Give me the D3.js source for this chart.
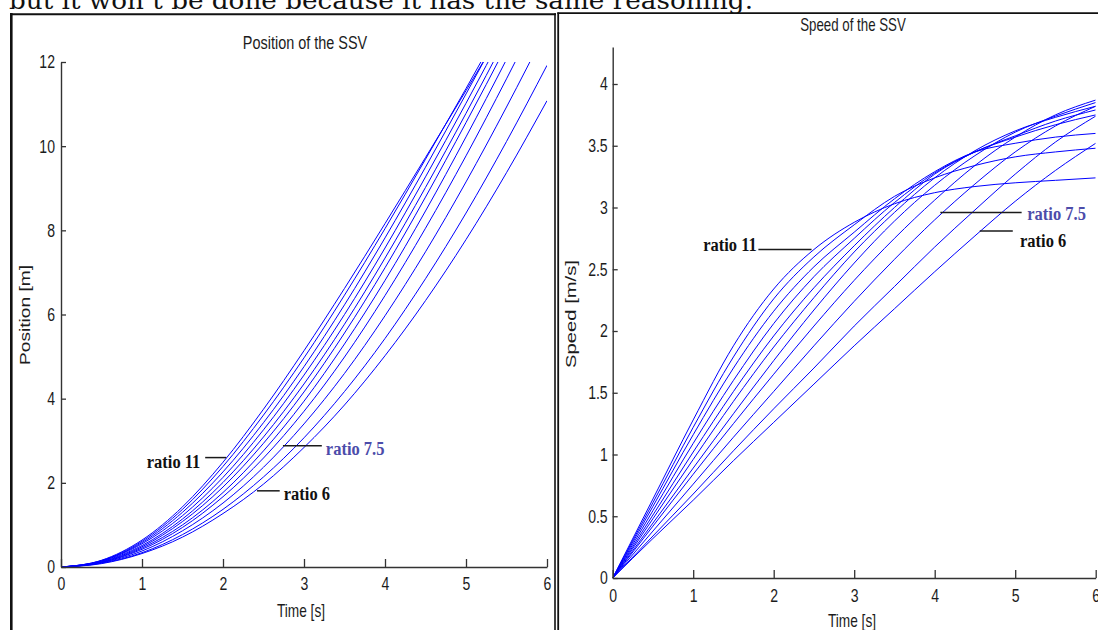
<!DOCTYPE html>
<html>
<head>
<meta charset="utf-8">
<script src="https://cdn.jsdelivr.net/npm/d3@7"></script>
<style>
  html, body { margin: 0; padding: 0; background: #ffffff; }
  svg { display: block; }
</style>
</head>
<body>
<svg id="fig" width="1098" height="630"></svg>
<script>
// Sample times [s]
const timeS = [0, 0.5, 1, 1.5, 2, 2.5, 3, 3.5, 4, 4.5, 5, 5.5, 6];
const ratioLabels = ["6", "6.5", "7", "7.5", "8", "8.5", "9", "9.5", "10", "10.5", "11"];

// Position of the SSV [m], one array per transmission ratio
const posR6   = [0, 0.08, 0.32, 0.71, 1.27, 1.97, 2.84, 3.85, 5.02, 6.33, 7.78, 9.37, 11.08];
const posR6_5 = [0, 0.09, 0.34, 0.77, 1.37, 2.14, 3.07, 4.17, 5.43, 6.85, 8.41, 10.11, 11.92];
const posR7   = [0, 0.10, 0.38, 0.86, 1.52, 2.37, 3.40, 4.60, 5.97, 7.49, 9.15, 10.93, 12.80];
const posR7_5 = [0, 0.11, 0.42, 0.94, 1.67, 2.59, 3.70, 4.99, 6.45, 8.05, 9.77, 11.60, 13.51];
const posR8   = [0, 0.11, 0.45, 1.00, 1.77, 2.76, 3.94, 5.30, 6.81, 8.46, 10.22, 12.06, 13.96];
const posR8_5 = [0, 0.12, 0.48, 1.08, 1.90, 2.94, 4.16, 5.56, 7.11, 8.79, 10.56, 12.39, 14.28];
const posR9   = [0, 0.13, 0.51, 1.14, 2.01, 3.09, 4.35, 5.77, 7.34, 9.02, 10.78, 12.60, 14.47];
const posR9_5 = [0, 0.14, 0.55, 1.22, 2.13, 3.26, 4.56, 6.00, 7.58, 9.27, 11.02, 12.83, 14.69];
const posR10  = [0, 0.15, 0.58, 1.30, 2.26, 3.43, 4.76, 6.23, 7.82, 9.50, 11.24, 13.01, 14.81];
const posR10_5= [0, 0.15, 0.61, 1.37, 2.39, 3.61, 4.97, 6.46, 8.04, 9.69, 11.37, 13.09, 14.82];
const posR11  = [0, 0.16, 0.64, 1.43, 2.49, 3.75, 5.14, 6.62, 8.16, 9.73, 11.32, 12.93, 14.54];

// Speed of the SSV [m/s], one array per transmission ratio
const spdR6   = [0, 0.32, 0.63, 0.95, 1.26, 1.57, 1.88, 2.18, 2.48, 2.77, 3.05, 3.30, 3.52];
const spdR6_5 = [0, 0.34, 0.68, 1.03, 1.37, 1.70, 2.04, 2.36, 2.68, 2.98, 3.27, 3.53, 3.74];
const spdR7   = [0, 0.38, 0.76, 1.14, 1.51, 1.88, 2.24, 2.58, 2.90, 3.19, 3.45, 3.66, 3.82];
const spdR7_5 = [0, 0.42, 0.84, 1.25, 1.65, 2.04, 2.41, 2.75, 3.06, 3.34, 3.57, 3.75, 3.87];
const spdR8   = [0, 0.445, 0.89, 1.33, 1.76, 2.17, 2.55, 2.89, 3.18, 3.42, 3.61, 3.74, 3.85];
const spdR8_5 = [0, 0.48, 0.96, 1.43, 1.87, 2.27, 2.64, 2.96, 3.24, 3.46, 3.62, 3.73, 3.82];
const spdR9   = [0, 0.51, 1.02, 1.51, 1.96, 2.35, 2.69, 3.00, 3.27, 3.45, 3.58, 3.70, 3.79];
const spdR9_5 = [0, 0.545, 1.09, 1.60, 2.06, 2.44, 2.75, 3.04, 3.28, 3.45, 3.57, 3.67, 3.75];
const spdR10  = [0, 0.58, 1.16, 1.70, 2.16, 2.52, 2.80, 3.07, 3.29, 3.45, 3.52, 3.57, 3.60];
const spdR10_5= [0, 0.61, 1.22, 1.79, 2.26, 2.60, 2.86, 3.09, 3.24, 3.34, 3.41, 3.45, 3.48];
const spdR11  = [0, 0.64, 1.28, 1.88, 2.34, 2.66, 2.88, 3.03, 3.12, 3.17, 3.20, 3.22, 3.24];

// Axis ticks
const timeTicks = [0, 1, 2, 3, 4, 5, 6];
const positionTicks = [0, 2, 4, 6, 8, 10, 12];
const speedTicks = [0, 0.5, 1, 1.5, 2, 2.5, 3, 3.5, 4];

// Callouts (anchor points given in data units)
const positionNotes = [
  { label: "ratio 11",  lx0: 1.78, lx1: 2.04, ly: 2.60, tx: 1.72, ty: 2.35, anchor: "end",   color: "#111111" },
  { label: "ratio 7.5", lx0: 2.74, lx1: 3.22, ly: 2.88, tx: 3.27, ty: 2.66, anchor: "start", color: "#4c4caa" },
  { label: "ratio 6",   lx0: 2.42, lx1: 2.70, ly: 1.81, tx: 2.75, ty: 1.59, anchor: "start", color: "#111111" }
];
const speedNotes = [
  { label: "ratio 11",  lx0: 1.81, lx1: 2.47, ly: 2.66, tx: 1.79, ty: 2.645, anchor: "end",   color: "#111111" },
  { label: "ratio 7.5", lx0: 4.07, lx1: 5.08, ly: 2.96, tx: 5.15, ty: 2.90, anchor: "start", color: "#4c4caa" },
  { label: "ratio 6",   lx0: 4.56, lx1: 4.97, ly: 2.81, tx: 5.06, ty: 2.68, anchor: "start", color: "#111111" }
];

const positionSeries = [posR6, posR6_5, posR7, posR7_5, posR8, posR8_5, posR9, posR9_5, posR10, posR10_5, posR11]
  .map((v, i) => ({ ratio: ratioLabels[i], values: v }));
const speedSeries = [spdR6, spdR6_5, spdR7, spdR7_5, spdR8, spdR8_5, spdR9, spdR9_5, spdR10, spdR10_5, spdR11]
  .map((v, i) => ({ ratio: ratioLabels[i], values: v }));

const sans = "'Liberation Sans', Arial, sans-serif";
const serif = "'Liberation Serif', 'Times New Roman', serif";
const axisInk = "#333333";
const textInk = "#1c1c1c";
const squeeze = 0.76;   // horizontal squeeze of the plot lettering

const svg = d3.select("#fig");

// Running text of the document, cut by the top edge
svg.append("text")
  .attr("x", 9).attr("y", 8.5)
  .attr("font-family", "'DejaVu Serif', serif")
  .attr("font-size", 24)
  .attr("textLength", 744)
  .attr("lengthAdjust", "spacingAndGlyphs")
  .attr("fill", "#111")
  .text("but it won\u2019t be done because it has the same reasoning.");

// Figure frames
const frame = svg.append("g").attr("stroke", "#111").attr("fill", "none");
frame.append("line").attr("x1", 11.3).attr("x2", 11.3).attr("y1", 13).attr("y2", 630).attr("stroke-width", 2.6);
frame.append("line").attr("x1", 10).attr("x2", 556).attr("y1", 14.2).attr("y2", 14.2).attr("stroke-width", 2);
frame.append("line").attr("x1", 555).attr("x2", 555).attr("y1", 13.2).attr("y2", 630).attr("stroke-width", 1.6);
frame.append("line").attr("x1", 558.2).attr("x2", 558.2).attr("y1", 12.5).attr("y2", 630).attr("stroke-width", 1.8);
frame.append("line").attr("x1", 557.3).attr("x2", 1098).attr("y1", 13.2).attr("y2", 13.2).attr("stroke-width", 1.7);

// Horizontally squeezed label, centred on (x, y baseline)
function squeezedText(parent, x, y, size, str) {
  return parent.append("g").attr("transform", `translate(${x},${y}) scale(${squeeze},1)`)
    .append("text").attr("text-anchor", "middle")
    .attr("font-family", sans).attr("font-size", size).attr("fill", textInk).text(str);
}

function drawPanel(opt) {
  const x = d3.scaleLinear().domain([0, 6]).range(opt.xRange);
  const y = d3.scaleLinear().domain(opt.yDomain).range(opt.yRange);
  const g = svg.append("g");

  const clipId = "clip-" + opt.id;
  svg.append("clipPath").attr("id", clipId).append("rect")
    .attr("x", opt.xRange[0]).attr("y", opt.yRange[1])
    .attr("width", opt.xRange[1] - opt.xRange[0])
    .attr("height", opt.yRange[0] - opt.yRange[1]);

  const line = d3.line()
    .x((d, i) => x(timeS[i]))
    .y(d => y(d))
    .curve(d3.curveMonotoneX);

  g.append("g").attr("clip-path", `url(#${clipId})`)
    .selectAll("path").data(opt.series).join("path")
    .attr("d", d => line(d.values))
    .attr("fill", "none")
    .attr("stroke", "#0000ff")
    .attr("stroke-width", 1);

  const xAxis = d3.axisBottom(x).tickValues(timeTicks).tickSize(-8).tickSizeOuter(0)
    .tickPadding(opt.xPad).tickFormat(d3.format("d"));
  const yAxis = d3.axisLeft(y).tickValues(opt.yTicks).tickSize(-5).tickSizeOuter(0)
    .tickPadding(opt.yPad).tickFormat(d => String(d));

  const gx = g.append("g").attr("transform", `translate(0,${opt.yRange[0]})`).call(xAxis);
  const gy = g.append("g").attr("transform", `translate(${opt.xRange[0]},0)`).call(yAxis);
  [gx, gy].forEach(a => {
    a.select(".domain").attr("stroke", axisInk).attr("stroke-width", 1.4);
    a.selectAll(".tick line").attr("stroke", axisInk).attr("stroke-width", 1.3);
    a.selectAll(".tick text").attr("font-family", sans).attr("font-size", 18.5).attr("fill", textInk);
  });
  gx.selectAll(".tick text").attr("transform", `scale(${squeeze},1)`);
  gy.selectAll(".tick text").attr("x", 0)
    .attr("transform", `translate(${-opt.yPad},0) scale(${squeeze},1)`);

  // Title and axis labels
  squeezedText(g, opt.titleX, opt.titleY, opt.titleSize, opt.title);
  squeezedText(g, opt.xLabelX, opt.xLabelY, 18, "Time [s]");
  g.append("text")
    .attr("transform", `translate(${opt.yLabelX},${opt.yLabelY}) rotate(-90)`)
    .attr("text-anchor", "middle").attr("font-family", sans).attr("font-size", 15.5)
    .attr("textLength", opt.yLabelLen).attr("lengthAdjust", "spacingAndGlyphs")
    .attr("fill", textInk).text(opt.yLabel);

  // Callouts
  const notes = g.append("g");
  opt.notes.forEach(n => {
    notes.append("line")
      .attr("x1", x(n.lx0)).attr("x2", x(n.lx1))
      .attr("y1", y(n.ly)).attr("y2", y(n.ly))
      .attr("stroke", "#1a1a1a").attr("stroke-width", 1.5);
    notes.append("g")
      .attr("transform", `translate(${x(n.tx)},${y(n.ty)}) scale(1,1.18)`)
      .append("text")
      .attr("text-anchor", n.anchor)
      .attr("font-family", serif).attr("font-weight", "bold").attr("font-size", 16.5)
      .attr("fill", n.color).text(n.label);
  });
}

drawPanel({
  id: "position", series: positionSeries,
  xRange: [61, 547], yDomain: [0, 12], yRange: [567, 62], yTicks: positionTicks,
  xPad: 10, yPad: 6,
  title: "Position of the SSV", titleX: 305, titleY: 49, titleSize: 19,
  xLabelX: 301, xLabelY: 617,
  yLabel: "Position [m]", yLabelX: 30, yLabelY: 315, yLabelLen: 100,
  notes: positionNotes
});

drawPanel({
  id: "speed", series: speedSeries,
  xRange: [612.7, 1095.7], yDomain: [0, 4.3], yRange: [578, 46.95], yTicks: speedTicks,
  xPad: 10.6, yPad: 5,
  title: "Speed of the SSV", titleX: 853, titleY: 31, titleSize: 17.5,
  xLabelX: 852, xLabelY: 627,
  yLabel: "Speed [m/s]", yLabelX: 576, yLabelY: 314, yLabelLen: 108,
  notes: speedNotes
});
</script>
</body>
</html>
